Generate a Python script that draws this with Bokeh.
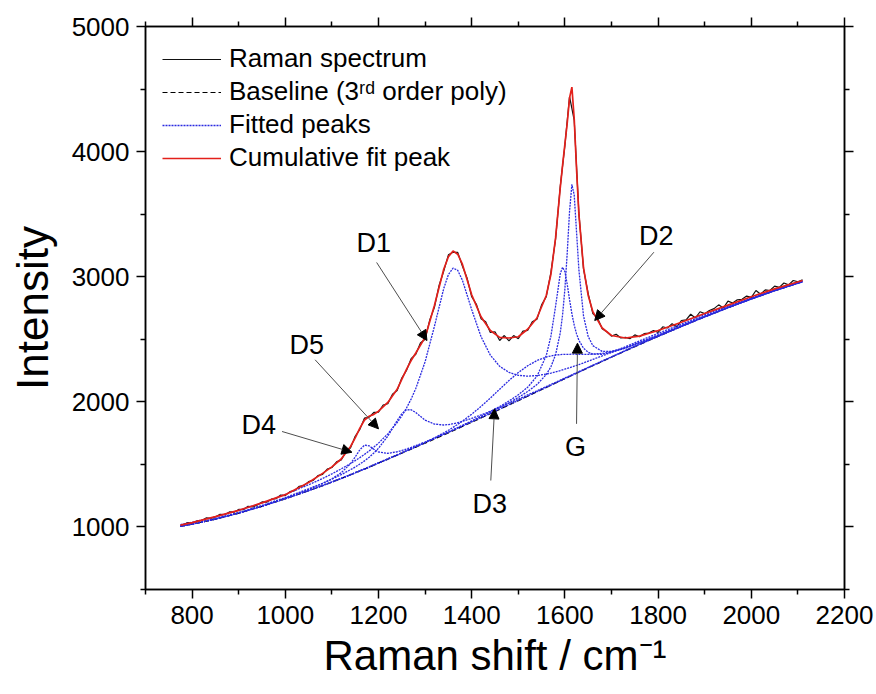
from bokeh.plotting import figure
from bokeh.models import (FixedTicker, LinearAxis, Legend, LegendItem, Arrow,
                          NormalHead, ColumnDataSource, Range1d, CustomLabelingPolicy)
from bokeh.core.properties import value
from bokeh.embed import file_html
from bokeh.resources import INLINE

# ---------------- data ----------------
# common grid of the fit curves (Raman shift, cm-1)
fit_x = [775, 800, 850, 900, 950, 1000, 1050,
         1080, 1100, 1120, 1140, 1150, 1160, 1170, 1180, 1190, 1200,
         1220, 1240, 1250, 1260, 1270, 1280, 1300, 1320, 1340, 1350,
         1360, 1370, 1380, 1400, 1420, 1440, 1460, 1480, 1500, 1520,
         1540, 1560, 1570, 1580, 1590, 1595, 1600, 1605, 1610, 1615,
         1620, 1625, 1630, 1640, 1650, 1660, 1680, 1700, 1730, 1760,
         1800, 1850, 1900, 1950, 2000, 2050, 2110]

baseline = [1005, 1022, 1062, 1110, 1165, 1225, 1290,
            1330, 1358, 1387, 1417, 1432, 1447, 1462, 1478, 1494, 1510,
            1542, 1574, 1590, 1606, 1622, 1638, 1670, 1703, 1736, 1752,
            1769, 1786, 1803, 1837, 1871, 1905, 1940, 1975, 2010, 2045,
            2080, 2115, 2132, 2150, 2167, 2176, 2185, 2193, 2202, 2211,
            2220, 2228, 2237, 2254, 2272, 2289, 2323, 2357, 2408, 2458,
            2523, 2602, 2679, 2752, 2822, 2888, 2960]

cumulative_fit = [1015, 1035, 1083, 1133, 1192, 1258, 1355,
                  1428, 1480, 1543, 1643, 1712, 1790, 1855, 1885, 1900, 1925,
                  1995, 2100, 2180, 2260, 2330, 2390, 2515, 2770, 3060, 3160,
                  3205, 3180, 3100, 2855, 2680, 2570, 2515, 2510, 2520, 2580,
                  2670, 2850, 3020, 3310, 3710, 3890, 4060, 4230, 4430, 4515,
                  4260, 3860, 3500, 3070, 2850, 2720, 2590, 2530, 2510, 2525,
                  2570, 2636, 2706, 2773, 2840, 2903, 2970]

# fitted peaks: height above the baseline at fit_x
peak_D4 = [1, 1, 1, 2, 3, 5, 10,
           17, 27, 46, 89, 127, 170, 192, 170, 127, 89,
           46, 27, 21, 17, 14, 12, 9, 7, 5, 5,
           4, 4, 3, 3, 2, 2, 2, 2, 1, 1,
           1, 1, 1, 1, 1, 1, 1, 1, 1, 1,
           1, 1, 1, 1, 1, 1, 1, 1, 0, 0,
           0, 0, 0, 0, 0, 0, 0]
peak_D5 = [3, 3, 4, 5, 7, 10, 15,
           19, 24, 31, 41, 47, 56, 66, 79, 97, 119,
           184, 276, 315, 330, 315, 276, 184, 119, 79, 66,
           56, 47, 41, 31, 24, 19, 16, 13, 11, 10,
           8, 7, 7, 6, 6, 6, 6, 6, 5, 5,
           5, 5, 5, 5, 4, 4, 4, 3, 3, 3,
           2, 2, 2, 1, 1, 1, 1]
peak_D1 = [14, 15, 18, 22, 27, 35, 47,
           57, 66, 77, 90, 98, 107, 118, 130, 144, 160,
           202, 260, 298, 344, 400, 468, 650, 900, 1170, 1265,
           1300, 1265, 1170, 900, 650, 468, 344, 260, 202, 160,
           130, 107, 98, 90, 83, 80, 77, 74, 71, 68,
           66, 63, 61, 57, 53, 50, 44, 39, 33, 29,
           24, 19, 16, 13, 11, 10, 8]
peak_D3 = [0, 0, 0, 0, 0, 0, 0,
           0, 0, 0, 0, 0, 0, 0, 0, 0, 0,
           0, 0, 0, 1, 2, 2, 5, 9, 16, 21,
           27, 34, 43, 64, 92, 125, 161, 195, 224, 243,
           250, 243, 235, 224, 210, 203, 195, 187, 178, 170,
           161, 152, 143, 125, 108, 92, 64, 43, 21, 9,
           2, 0, 0, 0, 0, 0, 0]
peak_G = [1, 1, 1, 1, 1, 1, 1,
          2, 2, 2, 2, 2, 2, 2, 3, 3, 3,
          3, 3, 4, 4, 4, 4, 5, 6, 7, 7,
          8, 9, 9, 11, 14, 18, 23, 32, 46, 71,
          124, 255, 393, 614, 856, 900, 856, 746, 614, 493,
          393, 315, 255, 174, 124, 93, 57, 38, 23, 16,
          10, 7, 5, 3, 3, 2, 2]
peak_D2 = [0, 1, 1, 1, 1, 1, 1,
           1, 1, 1, 2, 2, 2, 2, 2, 2, 2,
           2, 2, 3, 3, 3, 3, 3, 4, 5, 5,
           5, 6, 6, 7, 9, 11, 14, 18, 25, 37,
           58, 103, 148, 227, 383, 518, 717, 997, 1322, 1527,
           1432, 1128, 820, 431, 250, 160, 80, 47, 26, 17,
           10, 6, 4, 3, 2, 2, 1]
fitted_peaks = [peak_D4, peak_D5, peak_D1, peak_D3, peak_G, peak_D2]

# measured Raman spectrum (every 10 cm-1 from 780 to 2110)
raw_x = list(range(780, 2111, 10))
raw_intensity = [1012, 1035, 1030, 1048, 1050, 1072, 1068, 1080, 1101, 1098,
                 1120, 1118, 1140, 1138, 1165, 1160, 1176, 1200, 1198, 1222,
                 1226, 1255, 1250, 1282, 1290, 1325, 1330, 1362, 1372, 1410,
                 1420, 1462, 1475, 1520, 1536, 1600, 1632, 1725, 1780, 1870,
                 1878, 1915, 1918, 1975, 1985, 2060, 2090, 2190, 2250, 2345,
                 2380, 2470, 2500, 2655, 2755, 2930, 3045, 3175, 3195, 3195,
                 3085, 2990, 2840, 2780, 2665, 2640, 2555, 2560, 2490, 2530,
                 2488, 2530, 2505, 2565, 2570, 2640, 2660, 2775, 2840, 3035,
                 3300, 3720, 4050, 4440, 4250, 3510, 3060, 2865, 2705, 2670,
                 2585, 2560, 2525, 2540, 2510, 2515, 2505, 2535, 2520, 2545,
                 2550, 2570, 2555, 2600, 2590, 2625, 2600, 2650, 2655, 2700,
                 2670, 2720, 2705, 2730, 2745, 2775, 2750, 2805, 2790, 2815,
                 2820, 2845, 2835, 2890, 2860, 2895, 2890, 2925, 2915, 2950,
                 2935, 2970, 2960, 2975]

# peak annotations
label_text = ["D1", "D2", "D3", "D4", "D5", "G"]
label_x = [1190, 1796, 1439, 943, 1046, 1623]
label_y = [3273, 3329, 1187, 1811, 2458, 1637]
arrow_x_start = [1196, 1791, 1441, 993, 1064, 1625]
arrow_y_start = [3114, 3196, 1371, 1763, 2336, 1824]
arrow_x_end = [1304, 1664, 1449, 1143, 1200, 1627]
arrow_y_end = [2490, 2650, 1944, 1597, 1784, 2469]

x_major = [800, 1000, 1200, 1400, 1600, 1800, 2000, 2200]
x_minor = [700, 900, 1100, 1300, 1500, 1700, 1900, 2100]
y_major = [1000, 2000, 3000, 4000, 5000]
y_minor = [500, 1500, 2500, 3500, 4500]

# ---------------- figure ----------------
FONT = "Liberation Sans"
p = figure(width=876, height=694, x_range=Range1d(700, 2200), y_range=Range1d(500, 5000),
           output_backend="svg", toolbar_location=None,
           min_border_left=145, min_border_right=32, min_border_top=26, min_border_bottom=105,
           background_fill_color="white", border_fill_color="white")
p.xgrid.visible = False
p.ygrid.visible = False
p.outline_line_color = "black"
p.outline_line_width = 1.5


def style_axis(ax, major, minor, labels=True):
    ax.ticker = FixedTicker(ticks=major, minor_ticks=minor)
    ax.axis_line_color = "black"
    ax.axis_line_width = 1.5
    ax.major_tick_line_color = "black"
    ax.major_tick_line_width = 1.5
    ax.major_tick_out = 9
    ax.major_tick_in = 0
    ax.minor_tick_line_color = "black"
    ax.minor_tick_line_width = 1.5
    ax.minor_tick_out = 5
    ax.minor_tick_in = 0
    ax.major_label_text_font = FONT
    ax.major_label_text_color = "black"
    ax.major_label_text_font_size = "26px"
    ax.major_label_standoff = 7
    ax.axis_label_text_font = FONT
    ax.axis_label_text_font_style = "normal"
    ax.axis_label_text_font_size = "42px"
    ax.axis_label_text_color = "black"
    ax.axis_label_standoff = 5
    if not labels:
        # mirror axis: ticks only, no tick labels drawn and no room kept for them
        ax.major_label_policy = CustomLabelingPolicy(code="return new Set()")
        ax.major_label_text_font_size = "1px"
        ax.major_label_standoff = 0


style_axis(p.xaxis[0], x_major, x_minor)
style_axis(p.yaxis[0], y_major, y_minor)
p.xaxis[0].axis_label = "Raman shift / cm\u207b\u00b9"
p.yaxis[0].axis_label = "Intensity"
p.yaxis[0].axis_label_text_font_size = "44px"
p.yaxis[0].axis_label_standoff = 12

top_axis = LinearAxis()
style_axis(top_axis, x_major, x_minor, labels=False)
p.add_layout(top_axis, "above")
right_axis = LinearAxis()
style_axis(right_axis, y_major, y_minor, labels=False)
p.add_layout(right_axis, "right")

# ---------------- curves ----------------
r_base = p.line(fit_x, baseline, line_color="black", line_width=1.2, line_dash="5 3")
r_raw = p.line(raw_x, raw_intensity, line_color="#111111", line_width=1.2)
peak_renderers = []
for pk in fitted_peaks:
    ys = [b + v for b, v in zip(baseline, pk)]
    peak_renderers.append(p.line(fit_x, ys, line_color="#2a2ae0", line_width=1.3, line_dash="2 1"))
r_fit = p.line(fit_x, cumulative_fit, line_color="#e3201b", line_width=1.7)

# ---------------- annotations ----------------
arrow_src = ColumnDataSource(dict(xs=arrow_x_start, ys=arrow_y_start, xe=arrow_x_end, ye=arrow_y_end))
p.add_layout(Arrow(end=NormalHead(size=10, fill_color="black", line_color="black"),
                   x_start="xs", y_start="ys", x_end="xe", y_end="ye", source=arrow_src,
                   line_color="#4d4d4d", line_width=1))
p.text(x=label_x, y=label_y, text=label_text, text_font=value(FONT), text_font_size=value("27px"),
       text_color="black", text_align="center", text_baseline="middle")

# ---------------- legend ----------------
legend = Legend(items=[
    LegendItem(label="Raman spectrum", renderers=[r_raw]),
    LegendItem(label="Baseline (3\u02b3\u1d48 order poly)", renderers=[r_base]),
    LegendItem(label="Fitted peaks", renderers=[peak_renderers[0]]),
    LegendItem(label="Cumulative fit peak", renderers=[r_fit]),
], location="top_left")
legend.border_line_color = None
legend.background_fill_alpha = 0
legend.label_text_font = FONT
legend.label_text_font_size = "26px"
legend.label_text_color = "black"
legend.glyph_width = 59
legend.glyph_height = 20
legend.label_standoff = 8
legend.spacing = 2
legend.margin = 17
legend.padding = 10
p.add_layout(legend)

open("out.html", "w").write(file_html(p, INLINE))
